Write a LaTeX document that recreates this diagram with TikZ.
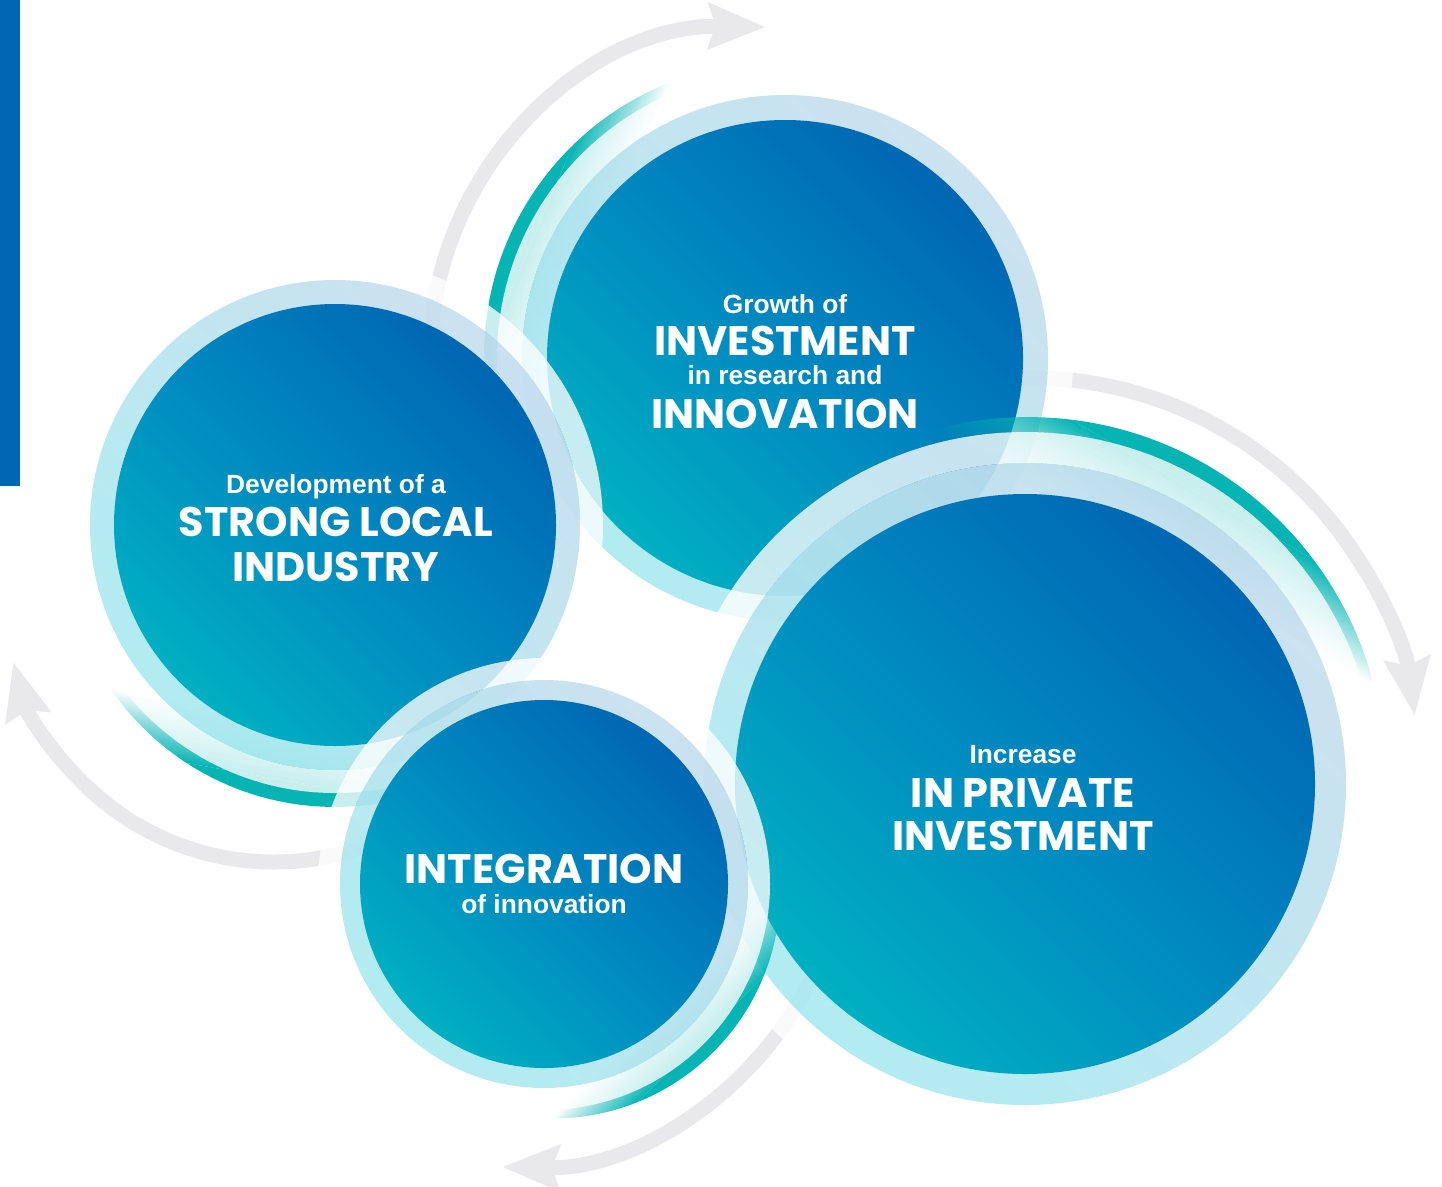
\documentclass[tikz,border=0pt]{standalone}
\usepackage{fontspec}
\setmainfont{Liberation Sans}
\newfontfamily\capsfont{Poppins}
\usetikzlibrary{arrows.meta,fadings}

\definecolor{barblue}{HTML}{0067B4}
\definecolor{deepblue}{HTML}{0066B3}
\definecolor{midblue}{HTML}{0089C0}
\definecolor{bubbleteal}{HTML}{00B0C2}
\definecolor{ringblue}{HTML}{C8DFEF}
\definecolor{ringcyan}{HTML}{AAEAF0}
\definecolor{glowteal}{HTML}{06B4B4}
\definecolor{arrowgrey}{HTML}{E9E9EC}

\begin{tikzfadingfrompicture}[name=glowfade]
  \fill[transparent!0] (-50bp,-50bp) rectangle (-23bp,50bp);
  \shade[left color=transparent!0, right color=transparent!100] (-23bp,-50bp) rectangle (-17.5bp,50bp);
  \fill[transparent!100] (-17.5bp,-50bp) rectangle (50bp,50bp);
\end{tikzfadingfrompicture}

\begin{document}
\begin{tikzpicture}[x=0.02cm, y=-0.02cm,
    smalltext/.style={text=white, anchor=base, inner sep=0pt, font=\bfseries\fontsize{15}{16}\selectfont},
    bigtext/.style={text=white, anchor=base, inner sep=0pt, font=\capsfont\bfseries\fontsize{23.5}{24}\selectfont},
    glow/.style={fill=glowteal, path fading=glowfade, fading angle=#1},
    halo/.style={fill=white, fill opacity=.78, even odd rule},
    ring/.style={top color=ringblue, bottom color=ringcyan, shading angle=-45, fill opacity=.92},
    bubble/.style={top color=deepblue, bottom color=bubbleteal, middle color=midblue, shading angle=-45},
    cyclearrow/.style={draw=arrowgrey, line width=0.3cm, -{Stealth[length=1.14cm, width=0.9cm, inset=0.14cm]}}]
    \useasboundingbox (0,0) rectangle (1442,1186);
    \fill[barblue] (0,0) rectangle (20,486);

    % centres of the bubbles and of the arrows round them
    \coordinate (c1) at (785,358);
    \coordinate (c2) at (335,525);
    \coordinate (c3) at (544,884);
    \coordinate (c4) at (1025,784);
    \coordinate (a1) at (760,357);
    \coordinate (a2) at (1030,766);
    \coordinate (a3) at (508,828);
    \coordinate (a4) at (274,592);

    % grey cycle arrows
    \draw[cyclearrow] ([shift={(186:330)}]a1) arc[start angle=186, end angle=271, radius=330];
    \draw[cyclearrow] ([shift={(262:388)}]a2) arc[start angle=262, end angle=352.5, radius=388];
    \draw[cyclearrow] ([shift={(25:339)}]a3) arc[start angle=25, end angle=91, radius=339];
    \draw[cyclearrow] ([shift={(70:270)}]a4) arc[start angle=70, end angle=165, radius=270];

    % research and innovation
    \fill[glow=-23] ([shift={(203:7)}]c1) circle[radius=294];
    \fill[halo] (c1) circle[radius=288] (c1) circle[radius=263];
    \shade[ring] (c1) circle[radius=263];
    \shade[bubble] (c1) circle[radius=238];

    % local industry
    \fill[glow=80] ([shift={(100:8)}]c2) circle[radius=273];
    \fill[halo] (c2) circle[radius=268] (c2) circle[radius=245];
    \shade[ring] (c2) circle[radius=245];
    \shade[bubble] (c2) circle[radius=221];

    % private investment
    \fill[glow=-120] ([shift={(300:8)}]c4) circle[radius=358];
    \fill[halo] (c4) circle[radius=352] (c4) circle[radius=321];
    \shade[ring] (c4) circle[radius=321];
    \shade[bubble] (c4) circle[radius=290];

    % integration
    \fill[glow=135] ([shift={(45:10)}]c3) circle[radius=228];
    \fill[halo] (c3) circle[radius=226] (c3) circle[radius=204];
    \shade[ring] (c3) circle[radius=204];
    \shade[bubble] (c3) circle[radius=184];

    % texts
    \node[smalltext] (growth) at (785,313) {Growth of};
    \node[bigtext] (invest) at (785,355) {INVESTMENT};
    \node[smalltext] (research) at (785,384) {in research and};
    \node[bigtext] (innov) at (785,428) {INNOVATION};

    \node[smalltext] (develop) at (336,493) {Development of a};
    \node[bigtext] (strong) at (336,536) {STRONG LOCAL};
    \node[bigtext] (industry) at (336,581) {INDUSTRY};

    \node[bigtext] (integr) at (544,883) {INTEGRATION};
    \node[smalltext] (ofinnov) at (544,913) {of innovation};

    \node[smalltext] (increase) at (1023,763) {Increase};
    \node[bigtext] (private) at (1023,807) {IN PRIVATE};
    \node[bigtext] (privinv) at (1023,850) {INVESTMENT};
\end{tikzpicture}
\end{document}
